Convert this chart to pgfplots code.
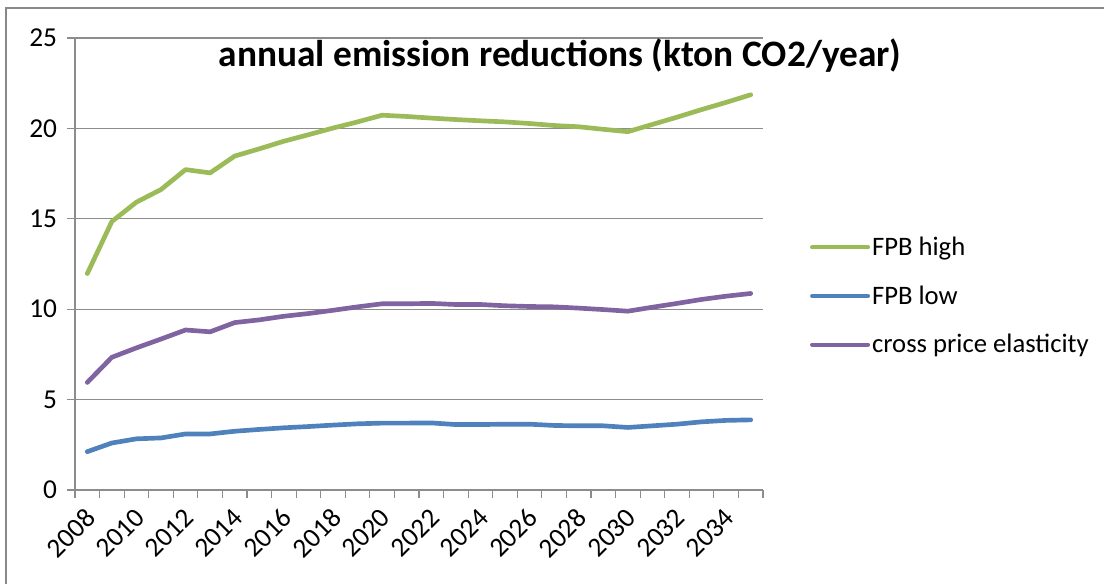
\documentclass[border=0pt]{standalone}
\usepackage{pgfplots}
\pgfplotsset{compat=1.18}
\usepackage{pgfplotstable}
\usepackage{fontspec}
\setmainfont{Carlito}

\definecolor{fpbhigh}{HTML}{9BBB59}
\definecolor{fpblow}{HTML}{4F81BD}
\definecolor{crossel}{HTML}{8064A2}
\definecolor{gridgray}{HTML}{8C8C8C}
\definecolor{framegray}{HTML}{888888}

% annual emission reductions, kton CO2 per year
\pgfplotstableread{
year  high   low   cross
2008  11.97  2.12  5.95
2009  14.85  2.60  7.34
2010  15.92  2.83  7.86
2011  16.62  2.88  8.35
2012  17.72  3.10  8.85
2013  17.54  3.10  8.75
2014  18.47  3.25  9.26
2015  18.87  3.35  9.41
2016  19.29  3.44  9.61
2017  19.65  3.51  9.76
2018  20.02  3.59  9.94
2019  20.36  3.66  10.13
2020  20.73  3.70  10.30
2021  20.66  3.70  10.30
2022  20.57  3.71  10.32
2023  20.49  3.62  10.26
2024  20.42  3.62  10.26
2025  20.36  3.64  10.19
2026  20.27  3.64  10.15
2027  20.16  3.57  10.13
2028  20.09  3.55  10.06
2029  19.95  3.55  9.98
2030  19.82  3.46  9.89
2031  20.22  3.55  10.11
2032  20.62  3.64  10.32
2033  21.04  3.77  10.54
2034  21.44  3.85  10.72
2035  21.86  3.88  10.87
}\emissions

\begin{document}
\begin{tikzpicture}
\useasboundingbox (0pt,0pt) rectangle (828pt,437.25pt);
% chart frame
\draw[framegray, line width=1.5pt] (4.5pt,-5pt) -- (4.5pt,431.25pt) -- (835pt,431.25pt);
\begin{axis}[
  at={(56.25pt,69.75pt)}, anchor=south west,
  scale only axis, width=516pt, height=339pt,
  xmin=2007.5, xmax=2035.5, ymin=0, ymax=25,
  axis lines=left, axis line style={-, draw=gridgray, line width=0.8pt},
  ytick={0,5,...,25},
  xtick={2008,2010,...,2034},
  minor xtick={2007.5,2008.5,...,2035.5},
  tick align=outside,
  major tick length=6pt, minor tick length=6pt,
  major x tick style={draw=none},
  minor x tick style={draw=gridgray, line width=0.8pt},
  major y tick style={draw=gridgray, line width=0.8pt},
  ymajorgrids, grid style={draw=gridgray, line width=0.8pt},
  /pgf/number format/assume math mode=true,
  xticklabel={\pgfmathprintnumber[1000 sep={}]{\tick}},
  tick label style={font=\fontsize{20.5}{24}\selectfont, text=black},
  xticklabel style={xshift=5pt, yshift=-9pt, rotate=45, anchor=east},
  yticklabel style={xshift=-4pt},
  title={annual emission reductions (kton CO2/year)},
  title style={font=\bfseries\fontsize{28}{33}\selectfont,
    at={(axis description cs:0.705,0.944)}, anchor=center},
  legend style={draw=none, fill=none, inner sep=0pt,
    at={(axis description cs:1.068,0.4292)}, anchor=west,
    font=\fontsize{20}{24}\selectfont,
    row sep=18pt, nodes={inner sep=1.5pt}},
  legend cell align=left,
  legend image code/.code={\draw[#1, line width=3pt] (0pt,0pt) -- (42pt,0pt);},
  clip=false,
]
\addplot[fpbhigh, line width=3.5pt, line join=round, line cap=round] table[x=year, y=high] {\emissions};
\addlegendentry{FPB high}
\addplot[fpblow, line width=3.5pt, line join=round, line cap=round] table[x=year, y=low] {\emissions};
\addlegendentry{FPB low}
\addplot[crossel, line width=3.5pt, line join=round, line cap=round] table[x=year, y=cross] {\emissions};
\addlegendentry{cross price elasticity}
\end{axis}
\end{tikzpicture}
\end{document}
